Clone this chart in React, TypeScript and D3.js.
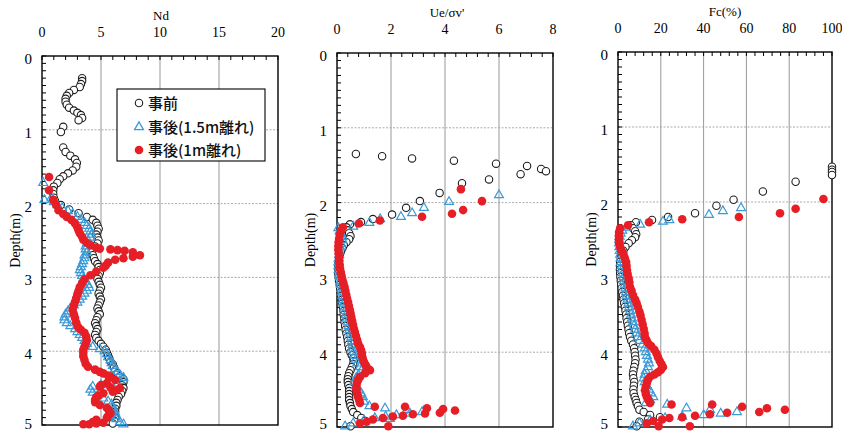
import React from "react";
import * as d3 from "d3";

// ---------- DATA: [depth (m), value] ----------
const ndBefore: [number, number][] = [
  [0.3,3.4],[0.34,3.4],[0.38,3.3],[0.42,3.2],[0.46,2.7],[0.5,2.3],[0.54,2.1],[0.58,2.0],[0.62,2.0],[0.66,2.1],[0.7,2.3],[0.74,2.7],[0.77,3.0],[0.8,3.3],[0.84,3.4],[0.87,3.1],
  [0.96,1.8],[1.03,1.6],
  [1.24,1.8],[1.3,2.0],[1.35,2.4],[1.4,2.8],[1.45,2.95],[1.5,2.9],[1.55,2.6],[1.59,2.2],[1.63,1.8],[1.67,1.5],[1.72,1.3],[1.77,1.0],[1.82,0.95],[1.87,0.95],[1.92,1.0],[1.96,1.1],
  [2.02,1.6],[2.08,2.3],[2.13,3.1],[2.18,3.8],[2.22,4.3],
  [2.26,4.6],[2.3,4.7],[2.34,4.8],[2.38,4.7],[2.42,4.6],[2.46,4.7],[2.5,4.8],[2.54,4.7],[2.58,4.5],[2.62,4.3],[2.66,4.2],[2.7,4.3],[2.74,4.4],[2.78,4.5],[2.82,4.7],[2.86,4.8],[2.9,4.9],[2.94,4.9],[2.98,4.8],
  [3.02,4.7],[3.06,4.8],[3.1,4.9],[3.14,5.0],[3.18,4.9],[3.22,4.8],[3.26,4.9],[3.3,5.0],[3.34,4.9],[3.38,4.8],[3.42,4.7],[3.46,4.8],[3.5,4.9],[3.54,4.7],[3.58,4.6],[3.62,4.5],[3.66,4.6],[3.7,4.7],[3.74,4.6],[3.78,4.5],[3.82,4.6],[3.86,4.8],[3.9,5.0],[3.94,5.2],[3.98,5.4],
  [4.02,5.5],[4.06,5.6],[4.1,5.7],[4.14,5.8],[4.18,6.0],[4.22,6.1],[4.26,6.2],[4.3,6.4],[4.34,6.6],[4.38,6.9],[4.42,6.9],[4.46,6.8],[4.5,6.9],[4.54,6.8],[4.58,6.7],[4.62,6.5],[4.66,6.4],[4.7,6.3],[4.74,6.3],[4.78,6.2],[4.82,6.2],[4.86,6.2],[4.9,6.2],[4.94,6.1],[4.98,6.0],
];
const ndAfter15: [number, number][] = [
  [1.72,0.1],[1.95,0.2],[1.92,0.8],[1.98,1.0],[2.02,1.3],[2.06,1.7],[2.1,2.2],[2.14,2.6],[2.18,3.0],[2.22,3.3],[2.26,3.6],[2.3,3.8],[2.34,4.0],[2.38,4.1],[2.42,4.2],[2.46,4.1],[2.5,3.9],[2.54,3.8],[2.58,3.7],[2.62,3.7],[2.66,3.8],[2.7,3.6],[2.74,3.6],[2.78,3.5],[2.82,3.4],[2.86,3.3],[2.9,3.2],[2.94,3.3],[2.98,3.4],
  [3.02,3.5],[3.06,3.7],[3.1,3.9],[3.14,4.0],[3.18,3.8],[3.22,3.6],[3.26,3.4],[3.3,3.2],[3.34,3.0],[3.38,2.7],[3.42,2.4],[3.46,2.2],[3.5,2.0],[3.54,1.9],[3.58,1.9],[3.62,2.1],[3.66,2.4],[3.7,2.8],[3.74,3.0],[3.78,3.2],[3.82,3.4],[3.86,3.6],[3.9,3.8],[3.94,4.3],[3.97,4.9],
  [4.0,5.3],[4.04,5.5],[4.08,5.6],[4.12,5.8],[4.16,5.9],[4.2,6.0],[4.24,6.2],[4.28,6.4],[4.32,6.6],[4.36,6.9],[4.4,6.6],[4.43,5.8],[4.46,5.0],[4.48,4.3],[4.52,4.1],[4.56,4.3],[4.6,4.7],[4.64,5.2],[4.68,5.6],[4.72,5.9],[4.76,6.0],[4.8,6.1],[4.84,6.2],[4.88,6.3],[4.92,6.3],[4.96,6.6],[4.99,6.9],
];
const ndAfter1: [number, number][] = [
  [1.64,0.6],[1.82,0.6],[1.95,0.95],[2.02,1.2],[2.09,1.4],[2.14,1.8],[2.18,2.1],[2.22,2.5],[2.27,2.8],[2.32,3.0],[2.36,3.1],[2.4,3.2],[2.45,3.4],[2.49,3.5],[2.53,3.8],[2.56,4.1],[2.6,4.6],[2.61,4.9],[2.62,5.8],[2.63,6.4],[2.64,7.0],[2.66,7.7],[2.7,8.3],[2.72,7.7],[2.74,6.9],[2.76,6.2],[2.8,5.6],[2.84,5.4],[2.87,5.2],[2.92,4.6],[2.97,4.1],
  [3.03,3.6],[3.08,3.4],[3.13,3.2],[3.18,3.1],[3.23,3.0],[3.28,2.9],[3.33,2.8],[3.38,2.7],[3.44,2.6],[3.5,2.7],[3.55,2.8],[3.61,2.9],[3.67,3.05],[3.71,3.3],[3.75,3.6],[3.8,3.75],[3.85,3.8],[3.9,3.7],[3.94,3.6],[3.98,3.5],
  [4.02,3.5],[4.07,3.5],[4.12,3.6],[4.17,3.7],[4.21,3.9],[4.25,4.5],[4.28,4.9],[4.3,5.2],[4.33,5.6],[4.35,5.8],[4.39,6.2],[4.43,5.5],[4.46,5.0],[4.48,4.9],[4.49,5.8],[4.5,6.6],[4.53,6.3],[4.55,6.0],[4.57,5.2],[4.6,4.8],[4.62,4.6],[4.66,4.5],[4.69,4.5],[4.73,4.9],[4.77,5.5],[4.81,5.7],[4.84,5.8],[4.88,5.6],[4.9,5.5],[4.93,4.6],[4.96,4.3],[4.97,5.2],[4.98,4.6],[4.99,4.0],[4.99,3.5],
];

const ueBefore: [number, number][] = [
  [1.35,0.7],[1.38,1.67],[1.41,2.78],[1.44,4.33],[1.48,5.89],[1.51,7.04],[1.55,7.56],[1.58,7.74],[1.62,6.8],[1.69,5.63],[1.74,4.63],[1.87,3.8],[1.98,3.07],[2.07,2.56],[2.16,2.04],[2.22,1.33],[2.26,0.89],[2.29,0.48],
  [2.33,0.35],[2.37,0.4],[2.41,0.45],[2.45,0.5],[2.49,0.45],[2.53,0.35],[2.57,0.25],[2.61,0.2],[2.65,0.15],[2.7,0.1],[2.75,0.08],[2.8,0.06],[2.85,0.05],[2.9,0.05],[2.95,0.05],
  [3.0,0.06],[3.05,0.08],[3.1,0.1],[3.15,0.12],[3.2,0.14],[3.25,0.16],[3.3,0.18],[3.35,0.2],[3.4,0.22],[3.45,0.24],[3.5,0.25],[3.55,0.27],[3.6,0.28],[3.65,0.3],[3.7,0.32],[3.75,0.35],[3.8,0.38],[3.85,0.4],[3.9,0.42],[3.95,0.45],
  [4.0,0.5],[4.04,0.55],[4.08,0.6],[4.12,0.62],[4.16,0.6],[4.2,0.55],[4.24,0.5],[4.28,0.45],[4.32,0.42],[4.36,0.4],[4.4,0.4],[4.44,0.42],[4.48,0.45],[4.52,0.45],[4.56,0.45],[4.6,0.45],[4.64,0.45],[4.68,0.48],[4.72,0.5],[4.76,0.55],[4.8,0.6],[4.84,0.75],[4.88,0.9],[4.92,1.05],[4.99,0.5],
];
const ueAfter15: [number, number][] = [
  [1.9,6.0],[1.99,4.15],[2.07,3.22],[2.14,2.78],[2.19,2.37],[2.22,1.6],[2.27,1.2],[2.32,0.6],[2.34,0.05],[2.38,0.1],[2.42,0.15],[2.46,0.2],[2.5,0.2],[2.55,0.15],[2.6,0.12],[2.65,0.1],[2.7,0.08],[2.75,0.06],[2.8,0.05],[2.85,0.05],[2.9,0.06],[2.95,0.08],
  [3.0,0.1],[3.05,0.12],[3.1,0.14],[3.15,0.16],[3.2,0.18],[3.25,0.2],[3.3,0.22],[3.35,0.25],[3.4,0.28],[3.45,0.3],[3.5,0.33],[3.55,0.36],[3.6,0.4],[3.65,0.43],[3.7,0.46],[3.75,0.5],[3.8,0.53],[3.85,0.56],[3.9,0.58],[3.95,0.6],
  [4.0,0.62],[4.05,0.65],[4.1,0.7],[4.15,0.75],[4.2,0.85],[4.25,0.9],[4.3,0.8],[4.35,0.7],[4.4,0.65],[4.45,0.7],[4.5,0.8],[4.55,0.9],[4.6,0.96],[4.66,1.0],[4.72,1.2],[4.75,1.78],[4.77,2.59],[4.8,3.15],[4.82,2.7],[4.84,2.2],[4.86,1.8],[4.89,1.96],[4.88,1.4],[4.91,1.0],[4.95,0.6],[4.99,0.3],
];
const ueAfter1: [number, number][] = [
  [1.82,4.59],[1.98,5.37],[2.1,4.67],[2.15,4.26],[2.19,3.15],[2.24,1.59],[2.28,0.81],[2.33,0.22],[2.38,0.15],[2.43,0.1],[2.48,0.08],[2.53,0.06],[2.58,0.05],[2.63,0.05],[2.68,0.06],[2.73,0.07],[2.78,0.08],[2.83,0.1],[2.88,0.11],[2.93,0.14],[2.98,0.17],
  [3.03,0.2],[3.08,0.24],[3.13,0.28],[3.18,0.31],[3.23,0.34],[3.28,0.37],[3.33,0.41],[3.38,0.44],[3.43,0.47],[3.48,0.5],[3.53,0.53],[3.58,0.56],[3.63,0.59],[3.68,0.62],[3.73,0.66],[3.78,0.7],[3.83,0.74],[3.88,0.78],[3.93,0.85],[3.97,0.89],
  [4.01,0.92],[4.05,0.93],[4.09,0.96],[4.13,1.0],[4.17,1.06],[4.2,1.1],[4.24,1.22],[4.28,1.04],[4.33,0.85],[4.37,0.78],[4.41,0.74],[4.46,0.72],[4.5,0.72],[4.55,0.74],[4.6,0.78],[4.64,0.82],[4.68,0.85],
  [4.73,1.4],[4.73,2.52],[4.75,3.33],[4.76,3.93],[4.78,4.37],[4.81,3.81],[4.82,3.26],[4.83,2.81],[4.85,2.44],[4.86,2.07],[4.88,1.7],[4.9,1.33],[4.93,1.1],[4.95,0.85],[4.99,1.9],
];

const fcBefore: [number, number][] = [
  [1.53,100],[1.57,100],[1.6,100],[1.64,100],[1.73,83],[1.86,67.7],[1.97,54],[2.05,46],[2.15,36],[2.2,23.4],[2.24,15.9],[2.27,8.4],[2.31,6],[2.35,7],[2.39,8],[2.43,8.5],[2.47,8],[2.51,6.5],[2.55,5],[2.6,3.5],[2.65,2.5],[2.7,1.8],[2.75,1.3],[2.8,1.0],[2.85,0.9],[2.9,0.9],[2.95,1.0],
  [3.0,1.1],[3.05,1.3],[3.1,1.5],[3.15,1.7],[3.2,2.0],[3.25,2.3],[3.3,2.6],[3.35,2.9],[3.4,3.2],[3.45,3.5],[3.5,3.8],[3.55,4.0],[3.6,4.3],[3.65,4.6],[3.7,4.9],[3.75,5.2],[3.8,5.6],[3.85,6.2],[3.9,7.0],[3.95,7.5],
  [4.0,7.8],[4.05,8.0],[4.1,8.2],[4.15,8.0],[4.2,7.6],[4.25,7.2],[4.3,7.0],[4.35,7.2],[4.4,7.6],[4.45,7.4],[4.5,7.2],[4.55,7.3],[4.6,7.8],[4.64,8.3],[4.68,8.7],[4.72,9.3],[4.77,10],[4.8,12],[4.84,15],[4.87,19.6],[4.9,14],[4.93,10],[4.99,8.7],
];
const fcAfter15: [number, number][] = [
  [2.08,57.5],[2.12,49],[2.17,42.5],[2.24,24],[2.26,21],[2.3,10.3],[2.34,4],[2.38,2],[2.42,1.2],[2.46,0.8],[2.5,0.6],[2.55,0.5],[2.6,0.6],[2.65,0.8],[2.7,1.0],[2.75,1.2],[2.8,1.5],[2.85,1.8],[2.9,2.0],[2.95,2.3],
  [3.0,2.6],[3.05,2.9],[3.1,3.2],[3.15,3.5],[3.2,3.8],[3.25,4.1],[3.3,4.5],[3.35,4.9],[3.4,5.3],[3.45,5.7],[3.5,6.1],[3.55,6.5],[3.6,7.0],[3.65,7.5],[3.7,8.0],[3.75,8.6],[3.8,9.2],[3.85,10],[3.9,11.5],[3.95,12.5],
  [4.0,13],[4.05,13.5],[4.1,14],[4.15,14.5],[4.2,14],[4.25,13],[4.3,12.5],[4.35,12],[4.4,12.5],[4.45,13.5],[4.5,14.5],[4.55,15.5],[4.6,16.5],[4.64,15],[4.68,13],[4.7,23],[4.75,32],[4.77,43],[4.8,55.6],[4.82,48],[4.84,40],[4.86,30],[4.88,22],[4.91,15],[4.95,10],[4.99,7],
];
const fcAfter1: [number, number][] = [
  [1.96,96],[2.09,83],[2.15,75.7],[2.2,56.5],[2.23,30],[2.27,14.5],[2.31,4.7],[2.35,1],[2.4,0.5],[2.45,0.4],[2.5,0.4],[2.55,0.5],[2.6,1.0],[2.65,1.8],[2.7,2.6],[2.75,3.2],[2.8,3.8],[2.85,4.0],[2.91,4.2],[2.96,4.5],
  [3.02,5.0],[3.07,5.3],[3.13,5.6],[3.18,6.3],[3.24,7.0],[3.3,8.0],[3.35,8.7],[3.4,9.3],[3.46,10],[3.51,10.5],[3.57,11],[3.63,11.5],[3.69,12],[3.75,12.4],[3.8,12.6],[3.84,13.3],[3.88,14],[3.92,15.5],[3.97,17],
  [4.02,18],[4.07,18.7],[4.12,19.5],[4.16,20.3],[4.2,21],[4.24,20],[4.27,18.7],[4.3,17],[4.33,15],[4.37,14],[4.41,13.5],[4.46,13],[4.51,12.6],[4.56,13],[4.6,13.5],[4.64,14.2],[4.68,15],
  [4.7,25],[4.7,44],[4.73,58],[4.75,69.6],[4.77,78],[4.8,66],[4.81,51],[4.83,43],[4.85,36],[4.87,30],[4.88,24],[4.9,20.6],[4.92,16.4],[4.95,13.5],[4.99,19],[4.99,33.6],
];

const ndTicks = [0, 5, 10, 15, 20];
const ueTicks = [0, 2, 4, 6, 8];
const fcTicks = [0, 20, 40, 60, 80, 100];
const depthTicks = [0, 1, 2, 3, 4, 5];
const legendLabels = ["事前", "事後(1.5m離れ)", "事後(1m離れ)"];

const BLACK = "#1e1e1e";
const BLUE = "#3a9ad8";
const RED = "#e61e26";
const SERIF = "Liberation Serif, DejaVu Serif, serif";
const JP = "Noto Sans CJK JP, sans-serif";

const triPath = d3.symbol(d3.symbolTriangle, 34)() as string;

type PanelProps = {
  x0: number; x1: number; y0: number; y1: number;
  domain: [number, number]; ticks: number[]; minorStep: number;
  title: string; titleX: number;
  before: [number, number][]; after15: [number, number][]; after1: [number, number][];
  children?: React.ReactNode;
};

function Panel(p: PanelProps) {
  const x = d3.scaleLinear().domain(p.domain).range([p.x0, p.x1]);
  const y = d3.scaleLinear().domain([0, 5]).range([p.y0, p.y1]);
  const minorX = d3.range(p.domain[0], p.domain[1] + 1e-9, p.minorStep);
  const minorY = d3.range(0, 5.0001, 0.1);
  return (
    <g>
      {p.ticks.slice(1, -1).map((t) => (
        <line key={"gx" + t} x1={x(t)} x2={x(t)} y1={p.y0} y2={p.y1} stroke="#8c8c8c" strokeWidth={0.9} />
      ))}
      {depthTicks.slice(1, -1).map((t) => (
        <line key={"gy" + t} x1={p.x0} x2={p.x1} y1={y(t)} y2={y(t)} stroke="#a0a0a0" strokeWidth={0.9} strokeDasharray="2,1.5" />
      ))}
      {minorX.map((t, i) => (
        <line key={"mx" + i} x1={x(t)} x2={x(t)} y1={p.y0} y2={p.y0 + 4} stroke="#000" strokeWidth={1} />
      ))}
      {minorY.map((t, i) => (
        <line key={"my" + i} x1={p.x0} x2={p.x0 + 4} y1={y(t)} y2={y(t)} stroke="#000" strokeWidth={1} />
      ))}
      <rect x={p.x0} y={p.y0} width={p.x1 - p.x0} height={p.y1 - p.y0} fill="none" stroke="#000" strokeWidth={1.4} />
      {p.ticks.map((t) => (
        <text key={"tx" + t} x={x(t)} y={p.y0 - 19} textAnchor="middle" fontFamily={SERIF} fontSize={14}>{t}</text>
      ))}
      <text x={p.titleX} y={p.y0 - 36} textAnchor="middle" fontFamily={SERIF} fontSize={13}>{p.title}</text>
      {depthTicks.map((t) => (
        <text key={"ty" + t} x={p.x0 - 10} y={Math.min(y(t) + 8, 429)} textAnchor="end" fontFamily={SERIF} fontSize={15}>{t}</text>
      ))}
      <text transform={`translate(${p.x0 - 22},${y(2.5)}) rotate(-90)`} textAnchor="middle" fontFamily={SERIF} fontSize={14}>Depth(m)</text>
      {p.before.map((d, i) => (
        <circle key={"b" + i} cx={x(d[1])} cy={y(d[0])} r={3.7} fill="#fff" stroke={BLACK} strokeWidth={1.1} />
      ))}
      {p.after15.map((d, i) => (
        <path key={"t" + i} d={triPath} transform={`translate(${x(d[1])},${y(d[0])})`} fill="none" stroke={BLUE} strokeWidth={1.2} />
      ))}
      {p.after1.map((d, i) => (
        <circle key={"r" + i} cx={x(d[1])} cy={y(d[0])} r={4.3} fill={RED} stroke="none" />
      ))}
      {p.children}
    </g>
  );
}

function Legend() {
  const bx = 117, by = 89, bw = 148, bh = 72;
  const rows = [103, 127, 150];
  return (
    <g>
      <rect x={bx} y={by} width={bw} height={bh} fill="#fff" stroke="#000" strokeWidth={1.1} />
      <circle cx={139} cy={rows[0]} r={3.7} fill="#fff" stroke={BLACK} strokeWidth={1.1} />
      <path d={triPath} transform={`translate(139,${rows[1]})`} fill="none" stroke={BLUE} strokeWidth={1.3} />
      <circle cx={139} cy={rows[2]} r={4.3} fill={RED} />
      {legendLabels.map((l, i) => (
        <text key={l} x={148} y={rows[i] + 5.5} fontFamily={JP} fontSize={15} fontWeight={500} fill="#111">{l}</text>
      ))}
    </g>
  );
}

export default function App() {
  return (
    <svg width={842} height={432} style={{ position: "absolute", left: 0, top: 0, background: "#fff" }}>
      <rect width={842} height={432} fill="#fff" />
      <Panel x0={42} x1={278} y0={56} y1={425} domain={[0, 20]} ticks={ndTicks} minorStep={1}
        title="Nd" titleX={161} before={ndBefore} after15={ndAfter15} after1={ndAfter1}>
        <Legend />
      </Panel>
      <Panel x0={337} x1={553} y0={53} y1={427} domain={[0, 8]} ticks={ueTicks} minorStep={0.4}
        title="Ue/σv'" titleX={447} before={ueBefore} after15={ueAfter15} after1={ueAfter1} />
      <Panel x0={618} x1={832} y0={52} y1={427} domain={[0, 100]} ticks={fcTicks} minorStep={4}
        title="Fc(%)" titleX={725} before={fcBefore} after15={fcAfter15} after1={fcAfter1} />
    </svg>
  );
}
